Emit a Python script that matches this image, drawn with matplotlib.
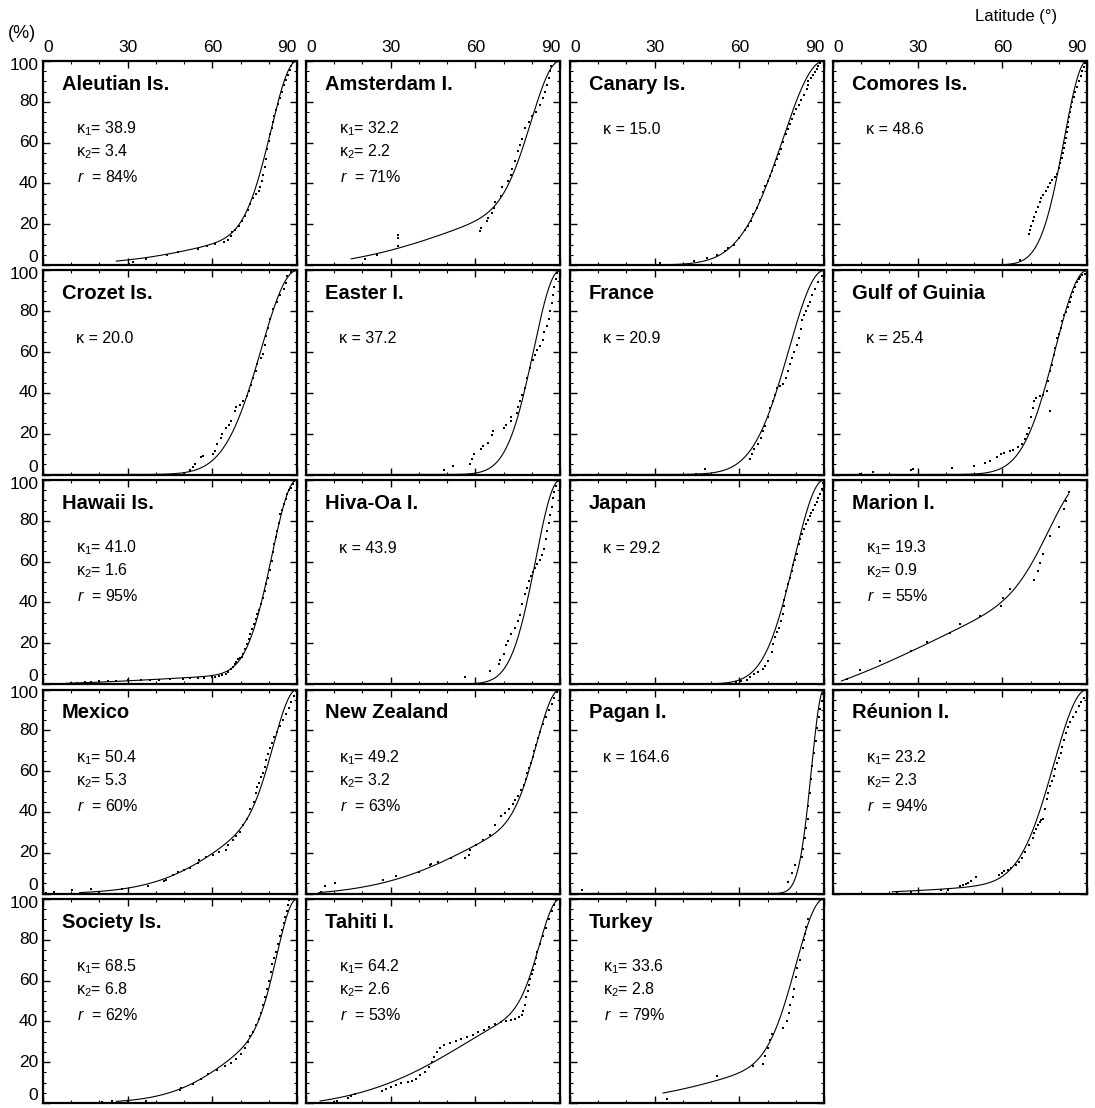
import numpy as np
import matplotlib.pyplot as plt
from matplotlib.ticker import MultipleLocator

plt.rcParams['font.family'] = ['Liberation Sans', 'DejaVu Sans']
plt.rcParams['mathtext.fontset'] = 'custom'
plt.rcParams['mathtext.rm'] = 'Liberation Sans'
plt.rcParams['mathtext.it'] = 'Liberation Sans:italic'
plt.rcParams['mathtext.default'] = 'regular'

# site names and fitted Fisher parameters (single kappa sites have no kappa2 / r)
SITES = ['Aleutian Is.', 'Amsterdam I.', 'Canary Is.', 'Comores Is.',
         'Crozet Is.', 'Easter I.', 'France', 'Gulf of Guinia',
         'Hawaii Is.', 'Hiva-Oa I.', 'Japan', 'Marion I.',
         'Mexico', 'New Zealand', 'Pagan I.', 'Réunion I.',
         'Society Is.', 'Tahiti I.', 'Turkey']
KAPPA1 = [38.9, 32.2, 15.0, 48.6, 20.0, 37.2, 20.9, 25.4, 41.0, 43.9, 29.2, 19.3,
          50.4, 49.2, 164.6, 23.2, 68.5, 64.2, 33.6]
KAPPA2 = [3.4, 2.2, None, None, None, None, None, None, 1.6, None, None, 0.9,
          5.3, 3.2, None, 2.3, 6.8, 2.6, 2.8]
R_PCT = [84, 71, None, None, None, None, None, None, 95, None, None, 55,
         60, 63, None, 94, 62, 53, 79]
# latitude span of the model curve
CURVE_FROM = [26, 16, 0, 0, 0, 0, 0, 0, 8, 0, 0, 3, 13, 4.5, 0, 21, 26, 5, 33]
CURVE_TO = [90, 90, 90, 90, 90, 90, 90, 90, 90, 90, 90, 83.5, 90, 90, 90, 90, 90, 90, 90]

# observed cumulative distributions (latitude, percent)
ALEUTIAN_LAT = [30.5, 32, 36.5, 44, 48, 55, 58, 61, 64, 65.5, 66.5, 67, 68, 69.5, 70.5, 71.5, 72.5,
                73.5, 74.5, 75.5, 76.5, 77, 77.5, 78, 78.5, 79, 79.5, 80, 80.5, 81, 81.5, 82, 82.7,
                83.3, 84, 84.7, 85.4, 86, 86.7, 87.4, 88, 88.7]
ALEUTIAN_PCT = [0.5, 1.5, 3, 5, 6.5, 8, 9.5, 10.5, 11.5, 12.5, 14, 16, 17, 19, 21.5, 24, 27, 30, 33,
                35, 36.5, 38, 41, 44, 48, 52, 57, 61, 64, 67, 70, 73, 76, 79, 82, 85, 88, 90.5, 93,
                95.5, 97.5, 99.5]
AMSTERDAM_LAT = [21, 25, 32.5, 32.5, 32.5, 61.5, 62, 64, 64.5, 66, 66.5, 67, 69, 69.5, 71.5, 72.5,
                 73, 74, 75, 76, 76.5, 77.5, 79, 80, 81.5, 82.8, 84, 84.7, 85.3, 86, 86.3, 86.8, 87.3]
AMSTERDAM_PCT = [3, 5, 9.5, 13, 14.5, 16.5, 18, 21.5, 23, 25.5, 28, 31, 34, 38, 41, 44, 47, 51, 56,
                 59, 62, 67, 70, 73, 75, 78.5, 82, 85, 88, 91.5, 95, 97.5, 100]
CANARY_LAT = [32, 44, 48.5, 52, 55, 56, 58, 60, 62, 63, 64, 65, 66.4, 67.3, 68.3, 69.2, 70, 70.8,
              71.5, 72.5, 73.4, 74, 74.7, 75.6, 76.6, 77.3, 77.9, 78.7, 79.4, 80.2, 81, 82, 83, 84,
              84.3, 84.5, 85.3, 86, 86.7, 87.4, 88, 88.7]
CANARY_PCT = [1, 2, 3.5, 5, 7, 8.5, 10, 13, 17, 19, 21.5, 25, 28, 32, 36, 38.5, 41, 43.5, 46, 49,
              52, 54.5, 57, 60.5, 64, 66.5, 69, 71.5, 74, 76.5, 78.5, 81, 83.5, 86.5, 88, 90, 91.5,
              93, 94.5, 96, 97.5, 99]
COMORES_LAT = [66.3, 69.4, 69.8, 70.3, 70.7, 71.3, 72, 72.6, 73.2, 73.8, 74.4, 75.3, 76.3, 77, 77.6,
               78.5, 79.4, 80, 80.6, 81.2, 81.6, 81.9, 82.2, 82.5, 82.8, 83.1, 83.4, 83.7, 84, 84.4,
               84.8, 85.3, 85.9, 86.5, 87.1, 87.7, 88.3, 88.9, 89.4]
COMORES_PCT = [2.5, 15, 17, 19, 21.5, 23.5, 26, 28.5, 31, 33, 34.5, 36.5, 38, 40, 41.5, 43, 44.5,
               47.5, 50, 52.5, 55, 57.5, 60, 62.5, 65, 67.5, 70, 72.5, 75, 77.5, 80, 82.5, 85, 87.5,
               90, 92.5, 95, 97, 99]
CROZET_LAT = [50, 52, 53, 54, 56, 56.6, 60.4, 61, 61.6, 63, 63.5, 64.8, 66, 66.6, 68, 68.5, 69.8, 71,
              72.3, 73, 73.8, 74.5, 75.4, 76, 77.3, 77.9, 78.5, 79, 79.8, 80.4, 81.6, 82.9, 84, 85.4,
              86, 86.6, 87.9]
CROZET_PCT = [0.3, 2, 3.5, 5, 8.5, 9, 10, 11.5, 15, 18, 20, 23, 24.5, 26, 31, 33, 34, 36, 38.5, 41,
              44, 47.5, 50.5, 54, 57, 59, 63.5, 68, 72, 76, 81, 84.5, 88, 91, 94, 97.5, 99.5]
EASTER_LAT = [48.8, 52, 58.2, 58.9, 59.5, 62, 62.6, 64.5, 65.8, 66.4, 70.2, 70.8, 72.7, 72.7, 74.6,
              75.2, 75.8, 76.5, 77.5, 78.4, 79.2, 80.3, 81, 82, 83, 84, 84.5, 85.5, 86, 86.5, 87,
              87.5, 88, 88.5, 89]
EASTER_PCT = [2, 4, 5, 7.5, 10, 12.5, 14, 15.5, 19.5, 21.5, 23, 24.5, 26, 28, 30, 33, 36, 39, 42.5,
              47.5, 52, 56, 58.5, 61, 63, 66, 70, 73, 76, 80, 84, 88, 92, 96, 99]
FRANCE_LAT = [44.8, 48, 63.9, 64.5, 65.1, 66.5, 67.7, 68.3, 69, 70.2, 70.9, 72.1, 72.8, 73.4, 74.5,
              75.3, 76.6, 77.2, 77.9, 78.5, 79.4, 80.4, 81, 81.7, 82.3, 83, 83.6, 84.3, 84.9, 85.8,
              86.8, 88, 89.3]
FRANCE_PCT = [0.3, 2.5, 7.5, 10, 12.5, 15, 18, 21.5, 24, 28, 32.5, 36, 39, 42.5, 43.5, 44.5, 47.5,
              50.5, 54, 57, 60, 63.5, 67, 71.5, 75.5, 78, 80, 82.5, 84.5, 88, 91, 94.5, 97.5]
GUINIA_LAT = [8.4, 9.6, 14, 27.7, 28.3, 42, 50, 54, 55.7, 58.2, 59.5, 60.7, 62.6, 63.8, 65.7, 67,
              68.2, 68.8, 69.5, 70, 70.7, 71.3, 72, 73.2, 74.4, 75.7, 76.3, 77, 77, 77.6, 78.2, 78.8,
              79.4, 80, 80.7, 81.3, 81.9, 82.5, 83.2, 83.8, 84.4, 85, 85.7, 86.3, 87, 87.5, 88.3, 89.4]
GUINIA_PCT = [0, 0.3, 1, 2.3, 2.8, 3, 4.4, 5.5, 6.5, 8.4, 10, 10.4, 11.3, 12, 13.3, 15, 17.3, 19.8,
              23, 28, 32.5, 36, 37.6, 38.4, 39.2, 40.8, 45.7, 50.6, 31, 53.8, 58.7, 62, 66.8, 69,
              71.6, 75, 78, 79.7, 82, 84.6, 87, 89.5, 92, 94.3, 96, 96.8, 98, 98.4]
HAWAII_LAT = [9.75, 12, 14.75, 17, 19.75, 23, 26, 30, 34.75, 38, 41, 45, 49.75, 52, 54.75, 57, 59.75,
              61, 62.25, 63.5, 64.75, 65.7, 66.6, 67.3, 67.9, 68.5, 69, 69.7, 70.4, 71, 71.6, 72.25,
              72.9, 73.5, 74.1, 74.75, 75.4, 76, 76.6, 77.25, 77.9, 78.5, 79.1, 79.75, 80.4, 81,
              81.5, 82, 82.5, 82.9, 83.5, 84.1, 84.7, 85.4, 86, 86.6, 87.3, 87.9, 88.5, 89]
HAWAII_PCT = [0.3, 0.6, 0.8, 1, 1.3, 1.4, 1.6, 1.8, 2, 2.1, 2.1, 2.3, 2.6, 2.7, 2.8, 3, 3.3, 3.6, 4,
              4.4, 4.9, 6, 7.3, 8.5, 9.8, 11, 12.2, 12.8, 13, 14.7, 17, 19.6, 22, 24.5, 27, 29.4, 32,
              34.3, 36.5, 39, 42, 45.7, 49, 52, 56, 60.3, 64.5, 68.5, 72, 75, 79, 83.2, 85.5, 88,
              90.5, 93, 95, 96.3, 98, 99.5]
HIVAOA_LAT = [56.4, 65.2, 68.3, 68.9, 70.2, 70.8, 71.4, 72.7, 74, 75.2, 75.8, 76.5, 77.5, 78.4, 79,
              79.6, 80.3, 81, 82, 83, 83.7, 84.3, 85, 85.5, 86, 86.5, 87, 87.5, 88, 88.7, 89.3]
HIVAOA_PCT = [3.5, 6.5, 10, 12, 14.5, 19, 21, 24.5, 27.5, 31, 34, 39, 44, 47, 50.5, 53, 55, 57, 59,
              61, 63, 66, 71, 75, 79, 83, 87, 91, 94, 97, 99.5]
JAPAN_LAT = [53, 58.8, 60.7, 62.6, 63.9, 65.1, 66.5, 68.3, 69, 70.2, 71.5, 72.1, 72.8, 73.4, 74, 74.7,
             75.3, 75.7, 76, 76.6, 77.2, 77.9, 78.5, 79.1, 79.7, 80.4, 81, 81.6, 82.3, 83, 83.6,
             84.3, 84.9, 85.5, 86.1, 86.8, 87.4, 88, 88.7, 89.3, 89.7]
JAPAN_PCT = [0, 0.8, 1.3, 2, 3.3, 5, 6, 7.5, 9, 11.5, 15.5, 19.5, 23, 25.5, 27.5, 31, 34.5, 38, 41,
             45.5, 49, 52, 55.5, 58.5, 61, 63.5, 68.5, 71, 73.5, 76, 78.5, 80.5, 82.5, 84, 85.5,
             87.5, 89, 91, 93, 95.5, 98.5]
MARION_LAT = [4.9, 9.6, 16.5, 27.7, 33.3, 41.4, 45.1, 52, 59.5, 60.1, 62.6, 71.3, 72.6, 73.2, 74.4,
              77, 80, 81.9, 82.5, 83.6]
MARION_PCT = [2.4, 6.9, 11.4, 16.3, 20.4, 25, 29.4, 33.4, 38, 42.4, 46.5, 51, 55.2, 59.5, 63.6,
              72.6, 77, 86, 89.5, 94]
MEXICO_LAT = [1, 4, 10.4, 17, 19.75, 27.9, 37.25, 42.9, 43.5, 46, 47.9, 50, 52.25, 54.75, 55.4, 57.9,
              60.4, 62.25, 64.75, 65.4, 67.25, 68.5, 69.75, 71, 72.25, 73.5, 74.75, 75.4, 76, 76.6,
              77.3, 77.9, 78.5, 79.1, 79.8, 80.4, 81.2, 82, 83, 84, 85, 86, 87, 88, 89, 89.8]
MEXICO_PCT = [0.3, 0.8, 1.5, 2.3, 0.8, 2.4, 3.9, 6, 6.8, 9.2, 10.5, 11.5, 12.4, 14.8, 16.4, 18, 18.9,
              20.5, 21.3, 23.7, 26, 28, 30.2, 33.4, 36.6, 41.5, 44.7, 49.5, 52, 54.4, 57, 59.2, 62,
              65.6, 68.5, 71.3, 74, 76.9, 79, 82, 85, 88, 91, 94, 97, 99.5]
NZ_LAT = [5.4, 6.7, 10.4, 27.4, 31.8, 40, 43.8, 44.4, 46.9, 51.3, 56.4, 57.6, 58.2, 60.1, 62.6, 65.2,
          67, 69, 70.5, 72, 73.3, 74.2, 75.2, 76.2, 77.1, 77.8, 78.4, 79, 79.6, 80.3, 80.9, 81.6,
          82.2, 83, 84, 85, 86, 87, 88, 89]
NZ_PCT = [0.8, 3.5, 5.2, 6.5, 8.4, 10.5, 14, 14.5, 15.6, 17.3, 17.3, 18.9, 21.3, 23.7, 26, 28.5, 33.4,
          38, 39.5, 41.4, 44, 46, 48, 50.5, 53, 56, 59, 61.5, 64, 67, 70, 73, 76, 79, 83, 86.5, 90,
          93, 96, 99]
PAGAN_LAT = [4.3, 77.2, 78.7, 79.8, 82.3, 82.7, 83.2, 83.6, 84.2, 84.5, 84.9, 85.5, 85.9, 86.5, 87,
             87.6, 88.2, 88.7, 89.2, 89.6]
PAGAN_PCT = [1.6, 5.6, 10, 14, 18, 22, 27, 32, 36.5, 43, 49.5, 56, 62.5, 69, 75, 81, 86.5, 90.5,
             94.5, 98]
REUNION_LAT = [22.7, 27.7, 38.3, 40.8, 45, 46, 47, 48, 48.9, 50.7, 58.9, 60, 60.7, 62, 63.2, 65, 66,
               67, 68.2, 69.5, 70.7, 71.3, 72, 72.6, 73.2, 73.8, 74.4, 75, 75.7, 76.3, 76.9, 77.5,
               78.2, 78.8, 79.4, 80, 80.7, 81.3, 81.9, 82.5, 83.2, 84, 85, 86, 87, 88, 89, 90]
REUNION_PCT = [0.3, 0.8, 1.9, 1.9, 3.5, 4, 4.5, 5.2, 6, 7.9, 9.2, 10, 10.8, 11.6, 12.4, 14, 15.5,
               17.3, 20.5, 23.7, 27, 29.5, 31.8, 33.5, 35, 35.8, 36.6, 41.5, 46.3, 49.5, 52.7, 55,
               57.6, 60.8, 64, 66.5, 68.9, 72, 75.3, 78.5, 81.8, 84, 86.5, 89, 92, 94, 96, 98.5]
SOCIETY_LAT = [21, 24.5, 30, 36.5, 48.5, 49, 53, 56, 58.5, 61.5, 64.5, 66.5, 68.5, 70, 71.5, 72.5,
               73.5, 74.5, 75.5, 76.5, 77.2, 78, 78.7, 79.3, 80, 80.7, 81.3, 82, 82.7, 83.3, 84,
               84.7, 85.3, 85.8, 86.3, 86.8, 87.2]
SOCIETY_PCT = [0.3, 1, 0.3, 1.2, 6.5, 7.5, 9.5, 12, 14, 16, 18, 19.5, 21.5, 24, 27, 30, 33, 35, 38,
               41, 44, 48, 52, 56, 60, 64, 68, 71, 74, 78, 82, 85, 88, 91, 94, 97, 99.5]
TAHITI_LAT = [10, 11, 15, 16, 17.5, 27, 28.5, 30, 32, 33.5, 36, 37.5, 39, 40.5, 42, 43.5, 44.5, 45.5,
              46.5, 47.5, 49, 51, 53, 55, 57, 59, 61, 63, 65, 67, 69, 71, 72.5, 74, 75.5, 76.5, 77,
              77.5, 78, 78.5, 79, 79.5, 80, 80.5, 81, 81.5, 82, 83, 84, 85, 86, 87, 88, 88.7]
TAHITI_PCT = [0.3, 1, 2.5, 3.5, 4.5, 6, 7, 8, 8.8, 9.6, 10.4, 11, 12, 13.5, 15, 17.5, 20, 22.5, 25,
              27, 28.5, 29.5, 30.5, 31.5, 32.5, 33.5, 35, 36, 37.5, 38.5, 39.5, 40, 40.5, 41, 42, 43,
              45, 48, 52, 55, 58, 61, 63, 65, 68, 71, 74, 78, 82, 86, 90, 94, 97, 99.5]
TURKEY_LAT = [34.5, 52, 65, 68.5, 69, 70, 71, 71.5, 75.5, 77, 77.5, 78, 79, 79.5, 80, 80.5, 81.5,
              82.4, 82.8, 83.2, 83.7, 84.2]
TURKEY_PCT = [2, 13, 18, 19, 23, 27, 31, 34, 37, 40, 44, 48, 52, 56, 62, 66, 70, 76, 80, 83, 86.5,
              90]

DOTS = [(ALEUTIAN_LAT, ALEUTIAN_PCT), (AMSTERDAM_LAT, AMSTERDAM_PCT), (CANARY_LAT, CANARY_PCT),
        (COMORES_LAT, COMORES_PCT), (CROZET_LAT, CROZET_PCT), (EASTER_LAT, EASTER_PCT),
        (FRANCE_LAT, FRANCE_PCT), (GUINIA_LAT, GUINIA_PCT), (HAWAII_LAT, HAWAII_PCT),
        (HIVAOA_LAT, HIVAOA_PCT), (JAPAN_LAT, JAPAN_PCT), (MARION_LAT, MARION_PCT),
        (MEXICO_LAT, MEXICO_PCT), (NZ_LAT, NZ_PCT), (PAGAN_LAT, PAGAN_PCT),
        (REUNION_LAT, REUNION_PCT), (SOCIETY_LAT, SOCIETY_PCT), (TAHITI_LAT, TAHITI_PCT),
        (TURKEY_LAT, TURKEY_PCT)]


def fisher_cum(lat, k):
    # fraction of poles with latitude below lat (northern hemisphere, Fisher kappa k)
    t = np.radians(90.0 - lat)
    return (np.exp(-k * (1 - np.cos(t))) - np.exp(-k)) / (1 - np.exp(-k))


def model_pct(lat, k1, k2, r):
    if k2 is None:
        return 100 * fisher_cum(lat, k1)
    w = r / 100.0
    return 100 * (w * fisher_cum(lat, k1) + (1 - w) * fisher_cum(lat, k2))


W, H = 1095, 1108
fig = plt.figure(figsize=(W / 100, H / 100), dpi=100)

col_left = [43, 306, 570, 833]
row_top = [61, 270.5, 480, 689.5, 899]
pw, ph = 254, 204

for i, name in enumerate(SITES):
    row, col = divmod(i, 4)
    ax = fig.add_axes([col_left[col] / W, 1 - (row_top[row] + ph) / H, pw / W, ph / H])
    ax.set_xlim(0, 90)
    ax.set_ylim(0, 100)

    lat = np.linspace(CURVE_FROM[i], CURVE_TO[i], 400)
    ax.plot(lat, model_pct(lat, KAPPA1[i], KAPPA2[i], R_PCT[i]), color='black', lw=0.8)
    dlat, dpct = DOTS[i]
    ax.plot(dlat, dpct, 's', ms=2.0, mew=0, color='black')

    ax.xaxis.set_major_locator(MultipleLocator(30))
    ax.xaxis.set_minor_locator(MultipleLocator(10))
    ax.yaxis.set_major_locator(MultipleLocator(20))
    ax.yaxis.set_minor_locator(MultipleLocator(5))
    ax.tick_params(which='both', direction='in', top=True, right=True,
                   labelbottom=False, labelleft=False)
    ax.tick_params(which='major', length=5, width=1)
    ax.tick_params(which='minor', length=2.5, width=0.8)
    for s in ax.spines.values():
        s.set_linewidth(1.6)

    if row == 0:
        for v in (0, 30, 60, 90):
            ha = 'left' if v == 0 else ('right' if v == 90 else 'center')
            ax.annotate(str(v), (v, 1), xycoords=('data', 'axes fraction'),
                        xytext=(0, 4), textcoords='offset points',
                        ha=ha, va='bottom', fontsize=12.5)
    if col == 0:
        for v in range(0, 101, 20):
            if v == 0:
                va, dy = 'bottom', 0
            elif v == 100:
                va, dy = 'center', -3
            else:
                va, dy = 'center', 0
            ax.annotate(str(v), (0, v), xycoords=('axes fraction', 'data'),
                        xytext=(-3.5, dy), textcoords='offset points',
                        ha='right', va=va, fontsize=12.5)

    ax.text(0.075, 0.885, name, transform=ax.transAxes, fontsize=14.5,
            fontweight='bold', va='center', ha='left')
    if KAPPA2[i] is None:
        ax.text(0.13, 0.665, 'κ = %.1f' % KAPPA1[i], transform=ax.transAxes,
                fontsize=11.5, va='center', ha='left')
    else:
        ax.text(0.13, 0.667, r'$\kappa_1$= %.1f' % KAPPA1[i], transform=ax.transAxes,
                fontsize=11.5, va='center', ha='left')
        ax.text(0.13, 0.554, r'$\kappa_2$= %.1f' % KAPPA2[i], transform=ax.transAxes,
                fontsize=11.5, va='center', ha='left')
        ax.text(0.135, 0.431, r'$\mathit{r}$  = %d%%' % R_PCT[i], transform=ax.transAxes,
                fontsize=11.5, va='center', ha='left')

fig.text(8 / W, 1 - 33 / H, '(%)', fontsize=13, ha='left', va='center')
fig.text(1016 / W, 1 - 16 / H, 'Latitude (°)', fontsize=12, ha='center', va='center')

fig.savefig('out.png', dpi=100)
